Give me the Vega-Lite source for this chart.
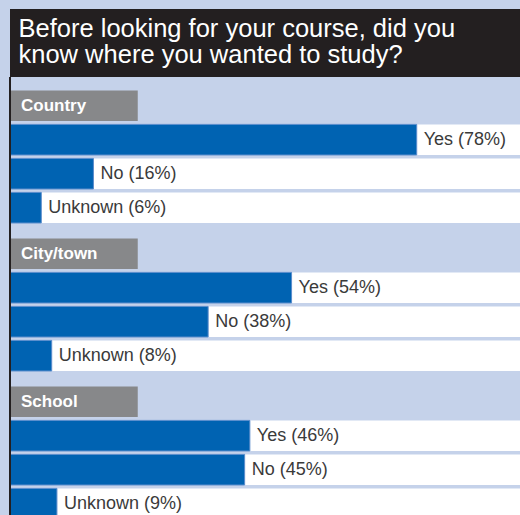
{
  "$schema": "https://vega.github.io/schema/vega-lite/v6.json",
  "background": "#c5d2ea",
  "padding": {"left": 9, "top": 8, "right": 0, "bottom": 0},
  "config": {"view": {"stroke": null}, "font": "Liberation Sans"},
  "datasets": {
    "answers": [
      {"section": "Country", "slot": "Yes", "value": 78, "label": "Yes (78%)"},
      {"section": "Country", "slot": "No", "value": 16, "label": "No (16%)"},
      {"section": "Country", "slot": "Unknown", "value": 6, "label": "Unknown (6%)"},
      {"section": "City/town", "slot": "Yes", "value": 54, "label": "Yes (54%)"},
      {"section": "City/town", "slot": "No", "value": 38, "label": "No (38%)"},
      {"section": "City/town", "slot": "Unknown", "value": 8, "label": "Unknown (8%)"},
      {"section": "School", "slot": "Yes", "value": 46, "label": "Yes (46%)"},
      {"section": "School", "slot": "No", "value": 45, "label": "No (45%)"},
      {"section": "School", "slot": "Unknown", "value": 9, "label": "Unknown (9%)"}
    ]
  },
  "spacing": 0,
  "bounds": "flush",
  "vconcat": [
    {
      "width": 511,
      "height": 68,
      "view": {"fill": "#231f20", "stroke": null},
      "title": {
        "text": ["Before looking for your course, did you", "know where you wanted to study?"],
        "anchor": "start",
        "orient": "top",
        "offset": -60,
        "dx": 9,
        "color": "#ffffff",
        "fontSize": 25.5,
        "fontWeight": "normal",
        "lineHeight": 26.5
      },
      "data": {"values": [{}]},
      "mark": {"type": "rule", "opacity": 0},
      "encoding": {}
    },
    {
      "data": {"name": "answers"},
      "facet": {
        "row": {"field": "section", "type": "nominal", "header": null, "sort": ["Country", "City/town", "School"]}
      },
      "spacing": {"row": 0},
      "bounds": "flush",
      "spec": {
        "width": 511,
        "height": 148,
        "encoding": {
          "y": {
            "field": "slot",
            "type": "nominal",
            "scale": {"domain": ["header", "Yes", "No", "Unknown"], "paddingInner": 0.1, "paddingOuter": 0.2265, "align": 0.87},
            "axis": null
          }
        },
        "layer": [
          {
            "mark": {"type": "bar", "color": "#ffffff"},
            "encoding": {
              "x": {"datum": 0, "type": "quantitative", "scale": {"domain": [0, 98]}, "axis": null},
              "x2": {"datum": 98}
            }
          },
          {
            "mark": {"type": "bar", "fill": "#0063b2", "stroke": "#5a8ccc", "strokeWidth": 1},
            "encoding": {
              "x": {"field": "value", "type": "quantitative", "scale": {"domain": [0, 98]}, "axis": null}
            }
          },
          {
            "mark": {"type": "text", "align": "left", "baseline": "middle", "dx": 7, "fontSize": 18, "color": "#3a3a3a"},
            "encoding": {
              "x": {"field": "value", "type": "quantitative", "scale": {"domain": [0, 98]}, "axis": null},
              "text": {"field": "label"}
            }
          },
          {
            "transform": [{"aggregate": [{"op": "count", "as": "n"}], "groupby": ["section"]}],
            "mark": {"type": "bar", "color": "#87888a"},
            "encoding": {
              "x": {"datum": 0, "type": "quantitative", "scale": {"domain": [0, 98]}, "axis": null},
              "x2": {"datum": 24.5},
              "y": {"datum": "header"}
            }
          },
          {
            "transform": [{"aggregate": [{"op": "count", "as": "n"}], "groupby": ["section"]}],
            "mark": {"type": "text", "align": "left", "baseline": "middle", "dx": 11, "fontSize": 17, "fontWeight": "bold", "color": "#ffffff"},
            "encoding": {
              "x": {"datum": 0, "type": "quantitative", "scale": {"domain": [0, 98]}, "axis": null},
              "y": {"datum": "header"},
              "text": {"field": "section"}
            }
          },
          {
            "transform": [{"aggregate": [{"op": "count", "as": "n"}], "groupby": ["section"]}],
            "mark": {"type": "rule", "color": "#231f20", "strokeWidth": 2},
            "encoding": {
              "x": {"datum": 0, "type": "quantitative", "scale": {"domain": [0, 98]}, "axis": null},
              "y": null
            }
          }
        ]
      }
    }
  ]
}
